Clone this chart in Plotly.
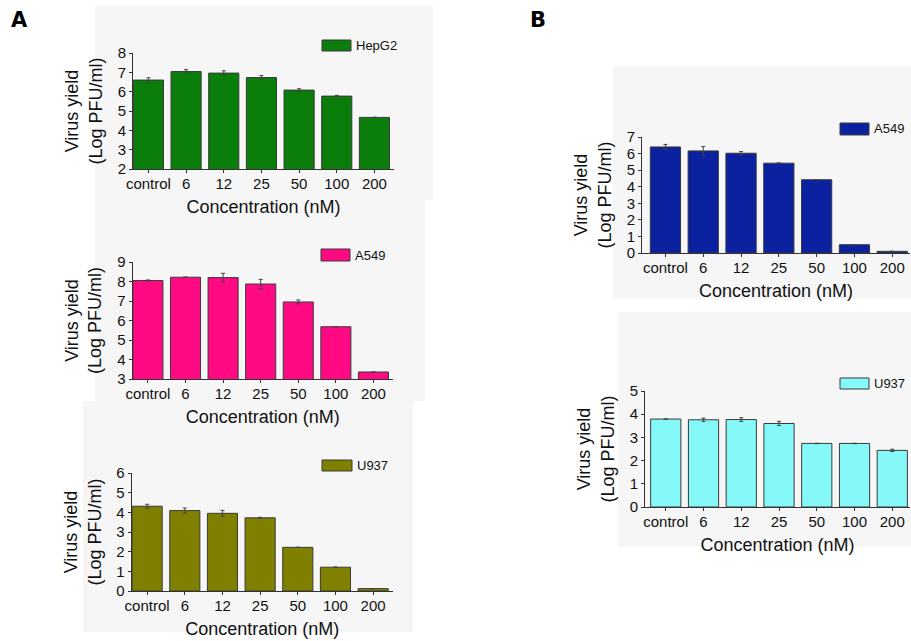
import plotly.graph_objects as go

W, H = 911, 641

categories = ["control", "6", "12", "25", "50", "100", "200"]

hepg2_vals = [6.60, 7.04, 6.96, 6.73, 6.08, 5.77, 4.67]
hepg2_err = [0.12, 0.10, 0.12, 0.10, 0.07, 0.04, 0.01]

a549_a_vals = [8.05, 8.22, 8.20, 7.87, 6.95, 5.68, 3.36]
a549_a_err = [0.03, 0.01, 0.22, 0.24, 0.10, 0.0, 0.0]

u937_a_vals = [4.31, 4.09, 3.95, 3.72, 2.22, 1.21, 0.12]
u937_a_err = [0.10, 0.13, 0.15, 0.03, 0.0, 0.0, 0.0]

a549_b_vals = [6.40, 6.16, 6.02, 5.42, 4.42, 0.50, 0.10]
a549_b_err = [0.15, 0.26, 0.10, 0.02, 0.01, 0.0, 0.0]

u937_b_vals = [3.79, 3.76, 3.77, 3.60, 2.74, 2.74, 2.44]
u937_b_err = [0.0, 0.07, 0.08, 0.09, 0.01, 0.01, 0.05]

x_title = "Concentration (nM)"
y_title = "Virus yield<br>(Log PFU/ml)"

FONT = "Liberation Sans, Arial, sans-serif"


def fx(p):
    return p / W


def fy(p):
    return 1 - p / H


panels = [
    dict(name="HepG2", vals=hepg2_vals, err=hepg2_err, color="#0A7D0A",
         yr=[2, 8], xd=(133, 394), yd=(53, 169), xr=[-0.41, 6.52],
         leg=(322, 40, 351, 51), bg=(95, 5, 433, 200)),
    dict(name="A549", vals=a549_a_vals, err=a549_a_err, color="#FF0A82",
         yr=[3, 9], xd=(132.5, 393), yd=(262, 379), xr=[-0.41, 6.52],
         leg=(321, 249, 350, 261), bg=(95, 200, 425, 401)),
    dict(name="U937", vals=u937_a_vals, err=u937_a_err, color="#808000",
         yr=[0, 6], xd=(131.7, 392.7), yd=(473, 591), xr=[-0.41, 6.52],
         leg=(322, 460, 352, 471), bg=(83, 401, 413, 632)),
    dict(name="A549", vals=a549_b_vals, err=a549_b_err, color="#0A21A0",
         yr=[0, 7], xd=(642, 910), yd=(137, 253), xr=[-0.62, 6.47],
         leg=(840, 123, 869, 135), bg=(613, 67, 911, 299)),
    dict(name="U937", vals=u937_b_vals, err=u937_b_err, color="#85F8F8",
         yr=[0, 5], xd=(645, 910), yd=(391, 507), xr=[-0.55, 6.47],
         leg=(840, 378, 869, 389), bg=(618, 312, 911, 547)),
]

fig = go.Figure()
shapes = []
annotations = []
layout = {}

for i, p in enumerate(panels):
    k = "" if i == 0 else str(i + 1)
    fig.add_trace(go.Bar(
        x=categories, y=p["vals"], name=p["name"],
        xaxis="x" + k, yaxis="y" + k,
        marker=dict(color=p["color"], line=dict(color="#3a3a3a", width=1)),
        error_y=dict(type="data", array=p["err"], visible=True,
                     color="#444444", thickness=1, width=2),
        showlegend=False,
    ))
    layout["xaxis" + k] = dict(
        domain=[fx(p["xd"][0]), fx(p["xd"][1])],
        anchor="y" + k, type="category", range=p["xr"],
        showline=True, linecolor="#333333", linewidth=1,
        ticks="outside", ticklen=3, tickcolor="#333333",
        ticklabelstandoff=-2,
        showgrid=False, zeroline=False,
        tickfont=dict(family=FONT, size=15, color="#111111"),
        title=dict(text=x_title, standoff=9,
                   font=dict(family=FONT, size=18, color="#111111")),
        automargin=False, fixedrange=True,
    )
    layout["yaxis" + k] = dict(
        domain=[fy(p["yd"][1]), fy(p["yd"][0])],
        anchor="x" + k, range=p["yr"], dtick=1,
        showline=True, linecolor="#333333", linewidth=1,
        ticks="outside", ticklen=3, tickcolor="#333333",
        showgrid=False, zeroline=False,
        tickfont=dict(family=FONT, size=15, color="#111111"),
        title=dict(text=y_title, standoff=10,
                   font=dict(family=FONT, size=18, color="#111111")),
        automargin=False, fixedrange=True,
    )
    b = p["bg"]
    shapes.append(dict(type="rect", xref="paper", yref="paper",
                       x0=fx(b[0]), x1=fx(b[2]), y0=fy(b[3]), y1=fy(b[1]),
                       fillcolor="#F6F6F6", line=dict(width=0), layer="below"))
    l = p["leg"]
    shapes.append(dict(type="rect", xref="paper", yref="paper",
                       x0=fx(l[0]), x1=fx(l[2]), y0=fy(l[3]), y1=fy(l[1]),
                       fillcolor=p["color"], line=dict(color="#3a3a3a", width=1),
                       layer="above"))
    annotations.append(dict(xref="paper", yref="paper",
                            x=fx(l[2] + 3), y=fy((l[1] + l[3]) / 2),
                            xanchor="left", yanchor="middle", showarrow=False,
                            text=p["name"],
                            font=dict(family=FONT, size=13, color="#111111")))

annotations.append(dict(xref="paper", yref="paper", x=fx(9), y=fy(20),
                        xanchor="left", yanchor="middle", showarrow=False,
                        text="<b>A</b>",
                        font=dict(family="DejaVu Sans", size=21, color="#000000")))
annotations.append(dict(xref="paper", yref="paper", x=fx(528), y=fy(20),
                        xanchor="left", yanchor="middle", showarrow=False,
                        text="<b>B</b>",
                        font=dict(family="DejaVu Sans", size=21, color="#000000")))

fig.update_layout(
    width=W, height=H,
    margin=dict(l=0, r=0, t=0, b=0),
    paper_bgcolor="white", plot_bgcolor="rgba(0,0,0,0)",
    bargap=0.2,
    shapes=shapes, annotations=annotations,
    font=dict(family=FONT),
    **layout,
)

fig.write_html(
    "out.html",
    config={"displayModeBar": False, "responsive": False},
    post_script="document.body.style.margin='0px';document.body.style.padding='0px';document.body.style.overflow='hidden';",
)
